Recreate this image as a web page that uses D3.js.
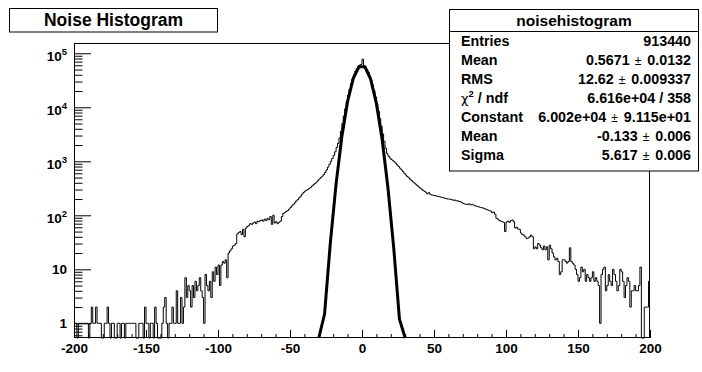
<!DOCTYPE html>
<html>
<head>
<meta charset="utf-8">
<script src="https://cdn.jsdelivr.net/npm/d3@7"></script>
<style>
  body { margin: 0; background: #fff; }
  svg { display: block; font-family: "Liberation Sans", Arial, Helvetica, sans-serif; font-weight: bold; }
</style>
</head>
<body>
<svg id="chart" width="702" height="372"></svg>
<script>
const histTitle = 'Noise Histogram';
const statsTitle = 'noisehistogram';

// histogram binning: 400 bins of width 1 from -200 to 200
const binStart = -200;
const binWidth = 1;
const counts = [
    1, 1, 0, 1, 1, 1, 1, 1, 1, 1,
    0, 1, 2, 1, 1, 2, 1, 1, 1, 0,
    0, 1, 1, 2, 1, 0, 1, 1, 0, 0,
    1, 1, 0, 1, 1, 0, 1, 1, 1, 1,
    1, 1, 1, 0, 0, 1, 1, 1, 0, 2,
    1, 1, 0, 1, 1, 0, 2, 1, 0, 0,
    0, 1, 2, 3, 1, 0, 1, 1, 2, 1,
    1, 4, 1, 1, 3, 1, 2, 7, 3, 5,
    4, 2, 5, 3, 6, 4, 5, 7, 4, 3,
    1, 8, 5, 4, 6, 3, 9, 6, 11, 8,
    12, 5, 12, 14, 13, 15, 7, 20, 22, 24,
    27, 28, 30, 45, 48, 50, 44, 55, 40, 58,
    62, 65, 70, 68, 72, 75, 70, 78, 76, 80,
    82, 78, 85, 80, 88, 83, 95, 68, 100, 72,
    76, 70, 74, 78, 95, 108, 112, 118, 122, 130,
    140, 150, 160, 170, 185, 195, 210, 225, 245, 265,
    280, 290, 300, 315, 330, 350, 370, 390, 410, 440,
    470, 500, 530, 570, 620, 690, 780, 880, 1000, 1130,
    1280, 1500, 1800, 2150, 2700, 3630, 4990, 6870, 9390, 12680,
    16800, 21750, 27390, 33680, 40170, 46570, 52400, 57220, 60570, 62190,
    78000, 59840, 56020, 50890, 44870, 38400, 31880, 25740, 20230, 15490,
    11600, 8530, 6185, 4455, 3215, 2350, 1750, 1400, 1250, 1150,
    1080, 1030, 980, 920, 860, 800, 745, 695, 645, 600,
    560, 525, 495, 465, 440, 415, 395, 375, 355, 335,
    320, 305, 290, 278, 266, 250, 262, 245, 238, 236,
    232, 228, 225, 222, 218, 215, 212, 208, 205, 200,
    200, 198, 195, 190, 192, 185, 186, 180, 178, 172,
    165, 162, 160, 158, 163, 156, 160, 155, 150, 148,
    145, 142, 140, 138, 135, 132, 128, 125, 122, 120,
    112, 115, 105, 88, 85, 80, 78, 76, 74, 50,
    75, 78, 74, 80, 82, 76, 58, 60, 56, 55,
    47, 44, 43, 40, 37, 38, 40, 43, 40, 24,
    26, 24, 30, 28, 25, 23, 27, 23, 26, 15,
    28, 24, 20, 17, 15, 16, 14, 8, 9, 15,
    15, 14, 13, 14, 25, 14, 13, 12, 10, 8,
    6, 7, 11, 9, 10, 6, 8, 7, 6, 7,
    9, 6, 7, 6, 5, 1, 8, 10, 11, 4,
    5, 8, 6, 5, 10, 8, 6, 4, 5, 10,
    9, 6, 3, 5, 7, 6, 2, 4, 4, 5,
    4, 4, 5, 11, 0, 0, 2, 2, 2, 6
];

// gaussian fit curve, sampled every 4 units (as drawn)
const fitX = [-30, -26, -22, -18, -14, -10, -6, -2, 2, 6, 10, 14, 18, 22, 26, 30];
const fitY = [0.0436, 1.49, 30.7, 381.6, 2852, 12830, 34780, 56800,
              55840, 33070, 11790, 2533, 327.5, 25.5, 1.196, 0.0338];

const xTickValues = [-200, -150, -100, -50, 0, 50, 100, 150, 200];
const xTickLabels = ['-200', '-150', '-100', '-50', '0', '50', '100', '150', '200'];
const yTickValues = [1, 10, 100, 1000, 10000, 100000];
const yTickBase = ['1', '10', '10', '10', '10', '10'];
const yTickExp = ['', '', '2', '3', '4', '5'];

const statLabels = ['Entries', 'Mean', 'RMS', 'chi2', 'Constant', 'Mean', 'Sigma'];
const statValues = ['913440', '0.5671', '12.62', '6.616e+04 / 358', '6.002e+04', '-0.133', '5.617'];
const statErrors = [null, '0.0132', '0.009337', null, '9.115e+01', '0.006', '0.006'];

const svg = d3.select('#chart');
const frame = { left: 74, right: 650, top: 43, bottom: 338 };
const yMin = 0.535, yMax = 1.55e5;

const x = d3.scaleLinear().domain([-200, 200]).range([frame.left, frame.right]);
const y = d3.scaleLog().domain([yMin, yMax]).range([frame.bottom, frame.top]);

// histogram outline
const steps = counts.map((c, i) => [binStart + i * binWidth, c]);
steps.push([binStart + counts.length * binWidth, counts[counts.length - 1]]);

const histLine = d3.line()
    .x(d => x(d[0]))
    .y(d => y(Math.max(d[1], yMin)))
    .curve(d3.curveStepAfter);

svg.append('path')
    .datum(steps)
    .attr('d', histLine)
    .attr('fill', 'none')
    .attr('stroke', '#000')
    .attr('stroke-width', 1);

// fit
const fitLine = d3.line()
    .x(d => x(d[0]))
    .y(d => y(Math.max(d[1], yMin)));

svg.append('path')
    .datum(fitX.map((v, i) => [v, fitY[i]]))
    .attr('d', fitLine)
    .attr('fill', 'none')
    .attr('stroke', '#000')
    .attr('stroke-width', 3)
    .attr('stroke-linejoin', 'round');

// x axis
const xMinor = d3.range(-200, 201, 10).filter(v => v % 50 !== 0);

const xAxis = svg.append('g')
    .attr('transform', `translate(0,${frame.bottom})`)
    .call(d3.axisBottom(x).tickValues(xTickValues).tickSize(-8).tickPadding(5)
        .tickFormat((d, i) => xTickLabels[i]));
xAxis.select('.domain').remove();
xAxis.selectAll('text').attr('font-size', 13.5).attr('font-weight', 'bold')
    .attr('font-family', '"Liberation Sans", Arial, sans-serif');

const xAxisMinor = svg.append('g')
    .attr('transform', `translate(0,${frame.bottom})`)
    .call(d3.axisBottom(x).tickValues(xMinor).tickSize(-4).tickFormat(''));
xAxisMinor.select('.domain').remove();

// y axis
const yMinor = [];
[-1, 0, 1, 2, 3, 4].forEach(p => {
    for (let k = 2; k <= 9; k++) {
        const v = k * Math.pow(10, p);
        if (v > yMin && v < yMax) yMinor.push(v);
    }
});

const yAxis = svg.append('g')
    .attr('transform', `translate(${frame.left},0)`)
    .call(d3.axisLeft(y).tickValues(yTickValues).tickSize(-17).tickFormat(''));
yAxis.select('.domain').remove();

const yAxisMinor = svg.append('g')
    .attr('transform', `translate(${frame.left},0)`)
    .call(d3.axisLeft(y).tickValues(yMinor).tickSize(-8.5).tickFormat(''));
yAxisMinor.select('.domain').remove();

const yLab = svg.append('g').attr('font-size', 13.5).attr('text-anchor', 'end');
yTickValues.forEach((v, i) => {
    const t = yLab.append('text')
        .attr('x', 67)
        .attr('y', y(v) + (yTickExp[i] ? 8 : 4.5));
    t.append('tspan').text(yTickBase[i]);
    if (yTickExp[i]) {
        t.append('tspan').attr('font-size', 9.5).attr('dy', -6.5).text(yTickExp[i]);
    }
});

// frame
svg.append('rect')
    .attr('x', frame.left + 0.5)
    .attr('y', frame.top + 0.5)
    .attr('width', frame.right - frame.left - 1)
    .attr('height', frame.bottom - frame.top - 1)
    .attr('fill', 'none')
    .attr('stroke', '#000');

// title box
svg.append('rect')
    .attr('x', 9.5).attr('y', 8.5).attr('width', 208).attr('height', 23.5)
    .attr('fill', '#fff').attr('stroke', '#000');
svg.append('text')
    .attr('x', 113.5).attr('y', 26)
    .attr('text-anchor', 'middle')
    .attr('font-size', 17.5)
    .text(histTitle);

// stats box
const stats = svg.append('g');
stats.append('rect')
    .attr('x', 449.5).attr('y', 9.5).attr('width', 249).attr('height', 161.5)
    .attr('fill', '#fff').attr('stroke', '#000');
stats.append('line')
    .attr('x1', 449.5).attr('x2', 698.5).attr('y1', 31.5).attr('y2', 31.5)
    .attr('stroke', '#000');
stats.append('text')
    .attr('x', 574).attr('y', 26)
    .attr('text-anchor', 'middle')
    .attr('font-size', 15.5)
    .text(statsTitle);

statLabels.forEach((lab, i) => {
    const yy = 45.5 + i * 19;
    const lt = stats.append('text')
        .attr('x', 461).attr('y', yy)
        .attr('font-size', 14.3);
    if (lab === 'chi2') {
        lt.append('tspan').attr('font-weight', 'normal').attr('font-family', '"DejaVu Sans", sans-serif')
            .attr('font-size', 13).text('χ');
        lt.append('tspan').attr('font-size', 9.5).attr('dy', -6).text('2');
        lt.append('tspan').attr('dy', 6).text(' / ndf');
    } else {
        lt.text(lab);
    }

    const vt = stats.append('text')
        .attr('x', 691).attr('y', yy)
        .attr('text-anchor', 'end')
        .attr('font-size', 14.3);
    vt.append('tspan').text(statValues[i]);
    if (statErrors[i]) {
        vt.append('tspan').attr('font-weight', 'normal').attr('font-size', 12)
            .attr('dx', 5).text('\u00b1');
        vt.append('tspan').attr('dx', 6).text(statErrors[i]);
    }
});
</script>
</body>
</html>
